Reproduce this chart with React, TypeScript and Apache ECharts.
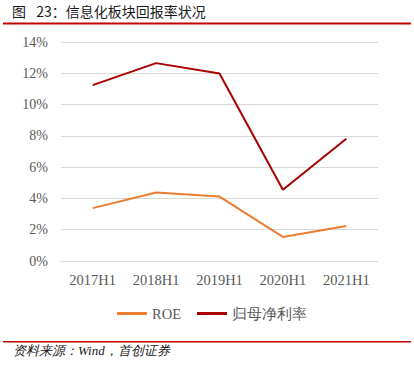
import React, { useEffect, useRef } from "react";
import * as echarts from "echarts";

const categories = ["2017H1", "2018H1", "2019H1", "2020H1", "2021H1"];
const roe = [3.38, 4.38, 4.12, 1.54, 2.24];
const netMargin = [11.24, 12.65, 11.99, 4.55, 7.82];
const seriesNames = ["ROE", "归母净利率"];
const titleText = "图\u2002 23：信息化板块回报率状况";
const sourceText = "资料来源：Wind，首创证券";

export default function App() {
  const ref = useRef<HTMLDivElement>(null);
  useEffect(() => {
    if (!ref.current) return;
    const chart = echarts.init(ref.current, null, { renderer: "svg" });
    chart.setOption({
      animation: false,
      backgroundColor: "#ffffff",
      grid: { left: 61, right: 36, top: 42, bottom: 108 },
      xAxis: {
        type: "category",
        data: categories,
        boundaryGap: true,
        axisLine: { show: true, lineStyle: { color: "#d9d9d9", width: 1 } },
        axisTick: { show: false },
        axisLabel: {
          color: "#595959",
          fontFamily: "Liberation Serif",
          fontSize: 14.5,
          margin: 11,
        },
      },
      yAxis: {
        type: "value",
        min: 0,
        max: 14,
        interval: 2,
        axisLine: { show: false },
        axisTick: { show: false },
        axisLabel: {
          formatter: "{value}%",
          color: "#595959",
          fontFamily: "Liberation Serif",
          fontSize: 14,
          margin: 13,
        },
        splitLine: { lineStyle: { color: "#d9d9d9", width: 1 } },
      },
      legend: {
        left: 112,
        top: 301,
        itemWidth: 30,
        itemHeight: 3,
        itemGap: 16,
        icon: "rect",
        data: seriesNames,
        textStyle: {
          color: "#595959",
          fontFamily: "Liberation Serif",
          fontSize: 14.5,
        },
      },
      series: [
        {
          name: seriesNames[0],
          type: "line",
          data: roe,
          symbol: "none",
          lineStyle: { color: "#ED7D31", width: 2 },
          itemStyle: { color: "#ED7D31" },
        },
        {
          name: seriesNames[1],
          type: "line",
          data: netMargin,
          symbol: "none",
          lineStyle: { color: "#A80000", width: 2 },
          itemStyle: { color: "#A80000" },
        },
      ],
      graphic: [
        {
          type: "text",
          left: 12,
          top: 4,
          style: {
            text: titleText,
            fill: "#1a1a1a",
            font: "14px 'Noto Sans CJK SC'",
          },
        },
        {
          type: "rect",
          shape: { x: 3, y: 22.5, width: 408, height: 2 },
          style: { fill: "#C00000" },
        },
        {
          type: "rect",
          shape: { x: 3, y: 341, width: 408, height: 1.5 },
          style: { fill: "#C00000" },
        },
        {
          type: "text",
          left: 13,
          top: 344,
          style: {
            text: sourceText,
            fill: "#1a1a1a",
            fontFamily: "Liberation Serif",
            fontStyle: "italic",
            fontSize: 13,
          },
        },
      ],
    });
    return () => chart.dispose();
  }, []);
  return (
    <div
      ref={ref}
      style={{ position: "fixed", left: 0, top: 0, width: 414, height: 369 }}
    />
  );
}
